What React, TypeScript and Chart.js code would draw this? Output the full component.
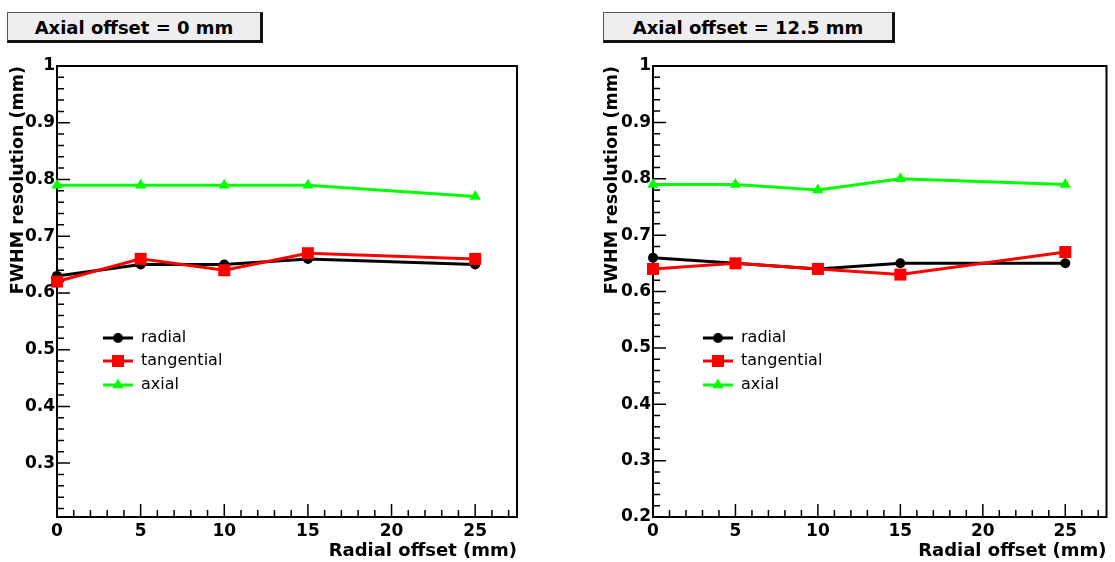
import React, { useEffect, useRef } from "react";
import { Chart, registerables } from "chart.js";

Chart.register(...registerables);

// ---------------- data ----------------
const radialOffsets = [0, 5, 10, 15, 25];

const leftRadial = [0.63, 0.65, 0.65, 0.66, 0.65];
const leftTangential = [0.62, 0.66, 0.64, 0.67, 0.66];
const leftAxial = [0.79, 0.79, 0.79, 0.79, 0.77];

const rightRadial = [0.66, 0.65, 0.64, 0.65, 0.65];
const rightTangential = [0.64, 0.65, 0.64, 0.63, 0.67];
const rightAxial = [0.79, 0.79, 0.78, 0.8, 0.79];

const seriesNames = ["radial", "tangential", "axial"];
const panelTitles = ["Axial offset = 0 mm", "Axial offset = 12.5 mm"];
const xTitle = "Radial offset (mm)";
const yTitle = "FWHM resolution (mm)";
const xRange = [0, 27.5];
const leftYRange = [0.205, 1];
const rightYRange = [0.2, 1];

// ---------------- styles ----------------
const FONT = "DejaVu Sans";
const seriesColors = ["#000000", "#ff0000", "#00ff00"];
const seriesStyles = ["circle", "rect", "triangle"];
const seriesRadius = [5, 8.5, 6.5];

const drawMarker = (ctx: CanvasRenderingContext2D, style: string, x: number, y: number, r: number) => {
  ctx.beginPath();
  if (style === "circle") {
    ctx.arc(x, y, r, 0, Math.PI * 2);
  } else if (style === "rect") {
    const s = Math.SQRT1_2 * r;
    ctx.rect(x - s, y - s, 2 * s, 2 * s);
  } else {
    const h = r * 1.5;
    const w = r * Math.sqrt(3);
    ctx.moveTo(x, y - r);
    ctx.lineTo(x + w / 2, y - r + h);
    ctx.lineTo(x - w / 2, y - r + h);
    ctx.closePath();
  }
  ctx.fill();
};

const rootStylePlugin = {
  id: "rootStyle",
  beforeDatasetsDraw(chart: any) {
    const { ctx, chartArea: a, scales } = chart;
    const xs = scales.x;
    const ys = scales.y;
    ctx.save();
    ctx.strokeStyle = "#000";
    ctx.lineWidth = 1.5;
    ctx.beginPath();
    for (let v = Math.ceil(xs.min); v <= xs.max + 1e-9; v += 1) {
      const px = xs.getPixelForValue(v);
      const len = v % 5 === 0 ? 13 : 7;
      ctx.moveTo(px, a.bottom);
      ctx.lineTo(px, a.bottom - len);
    }
    const k0 = Math.ceil(ys.min * 50 - 1e-6);
    const k1 = Math.round(ys.max * 50);
    for (let k = k0; k <= k1; k++) {
      const py = ys.getPixelForValue(k / 50);
      const len = k % 5 === 0 ? 13 : 7;
      ctx.moveTo(a.left, py);
      ctx.lineTo(a.left + len, py);
    }
    ctx.stroke();
    ctx.lineWidth = 2;
    ctx.strokeRect(a.left, a.top, a.right - a.left, a.bottom - a.top);
    ctx.restore();
  },
  afterDatasetsDraw(chart: any, _args: any, opts: any) {
    const { ctx, chartArea: a } = chart;
    const lx = a.left + (opts.legendX || 46);
    const rows = opts.legendRows || [272, 295, 319];
    ctx.save();
    seriesNames.forEach((name, i) => {
      const y = a.top + rows[i];
      ctx.strokeStyle = seriesColors[i];
      ctx.fillStyle = seriesColors[i];
      ctx.lineWidth = 3;
      ctx.beginPath();
      ctx.moveTo(lx, y);
      ctx.lineTo(lx + 30, y);
      ctx.stroke();
      drawMarker(ctx, seriesStyles[i], lx + 15, y, seriesRadius[i]);
      ctx.fillStyle = "#000";
      ctx.font = `16px "${FONT}"`;
      ctx.textBaseline = "middle";
      ctx.textAlign = "left";
      ctx.fillText(name, lx + 38, y);
    });
    ctx.restore();
  },
};

const tickFont = { family: FONT, size: 17, weight: "bold" as const };
const xTitleFont = { family: FONT, size: 18, weight: "bold" as const, lineHeight: 1.2 };
const yTitleFont = { family: FONT, size: 17.5, weight: "bold" as const, lineHeight: 1.2 };

const makeConfig = (
  radial: number[],
  tangential: number[],
  axial: number[],
  yRange: number[],
  yWidth: number,
  padRight: number,
  yTitlePad: number,
  legendX: number
): any => {
  const series = [radial, tangential, axial];
  return {
    type: "line",
    data: {
      datasets: series.map((vals, i) => ({
        label: seriesNames[i],
        data: radialOffsets.map((x, j) => ({ x, y: vals[j] })),
        borderColor: seriesColors[i],
        backgroundColor: seriesColors[i],
        borderWidth: 3,
        pointStyle: seriesStyles[i],
        pointRadius: seriesRadius[i],
        pointBorderWidth: 0,
        tension: 0,
        clip: false,
        order: 2 - i,
      })),
    },
    options: {
      responsive: false,
      animation: false,
      layout: { padding: { top: 66, right: padRight, left: 0, bottom: 0 } },
      plugins: {
        legend: { display: false },
        tooltip: { enabled: false },
        rootStyle: { legendX, legendRows: [272, 295, 319] },
      },
      scales: {
        x: {
          type: "linear",
          min: xRange[0],
          max: xRange[1],
          grid: { display: false, drawTicks: false },
          border: { display: false },
          ticks: {
            stepSize: 5,
            includeBounds: false,
            padding: 4,
            color: "#000",
            font: tickFont,
            maxRotation: 0,
            autoSkip: false,
          },
          title: {
            display: true,
            text: xTitle,
            align: "end",
            color: "#000",
            font: xTitleFont,
            padding: { top: 0, bottom: 0 },
          },
          afterFit: (s: any) => {
            s.height = 45;
          },
        },
        y: {
          type: "linear",
          min: yRange[0],
          max: yRange[1],
          grid: { display: false, drawTicks: false },
          border: { display: false },
          ticks: {
            stepSize: 0.1,
            includeBounds: false,
            padding: 2,
            color: "#000",
            font: tickFont,
            autoSkip: false,
            callback: (v: any) => String(Number(Number(v).toFixed(2))),
          },
          title: {
            display: true,
            text: yTitle,
            align: "end",
            color: "#000",
            font: yTitleFont,
            padding: { top: yTitlePad, bottom: 0 },
          },
          afterFit: (s: any) => {
            s.width = yWidth;
          },
        },
      },
    },
    plugins: [rootStylePlugin],
  };
};

const titleBox = (left: number, width: number): React.CSSProperties => ({
  position: "absolute",
  left,
  top: 12,
  width,
  height: 31,
  boxSizing: "border-box",
  background: "#eeeeee",
  borderTop: "1px solid #555",
  borderLeft: "1px solid #555",
  borderRight: "3px solid #111",
  borderBottom: "3px solid #111",
  fontFamily: FONT,
  fontWeight: "bold",
  fontSize: 18,
  lineHeight: "29px",
  textAlign: "center",
  color: "#000",
});

export default function App() {
  const leftRef = useRef<HTMLCanvasElement | null>(null);
  const rightRef = useRef<HTMLCanvasElement | null>(null);

  useEffect(() => {
    const charts: Chart[] = [];
    if (leftRef.current) {
      charts.push(
        new Chart(
          leftRef.current,
          makeConfig(leftRadial, leftTangential, leftAxial, leftYRange, 57, 40, 8, 46)
        )
      );
    }
    if (rightRef.current) {
      charts.push(
        new Chart(
          rightRef.current,
          makeConfig(rightRadial, rightTangential, rightAxial, rightYRange, 96, 3, 45, 50)
        )
      );
    }
    return () => charts.forEach((c) => c.destroy());
  }, []);

  return (
    <div
      style={{
        position: "fixed",
        left: 0,
        top: 0,
        width: 1115,
        height: 562,
        background: "#ffffff",
        overflow: "hidden",
      }}
    >
      <canvas
        ref={leftRef}
        width={557}
        height={562}
        style={{ position: "absolute", left: 0, top: 0, width: 557, height: 562 }}
      />
      <canvas
        ref={rightRef}
        width={558}
        height={562}
        style={{ position: "absolute", left: 557, top: 0, width: 558, height: 562 }}
      />
      <div style={titleBox(7, 256)}>{panelTitles[0]}</div>
      <div style={titleBox(603, 292)}>{panelTitles[1]}</div>
    </div>
  );
}
